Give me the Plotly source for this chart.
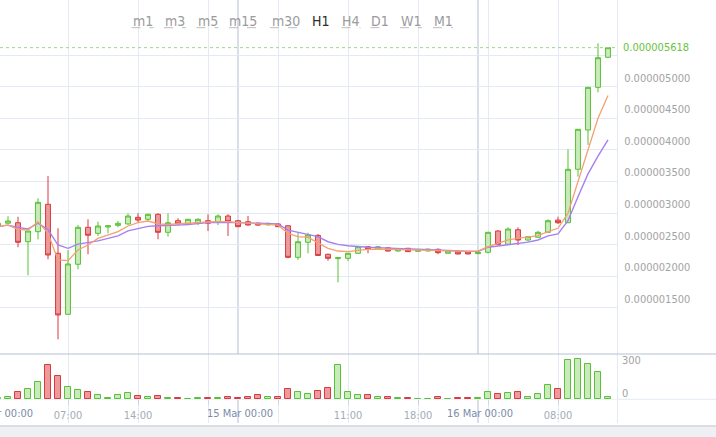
import pandas as pd
import plotly.graph_objects as go

# prices are kept in units of 1e-6 and scaled when plotted
SCALE = 1e-6

TIMES = pd.date_range("2018-03-14 00:00", periods=62, freq="h")

OPEN = [2.79, 2.84, 2.848, 2.547, 2.706, 3.139, 2.364, 1.399, 2.19, 2.775,
        2.68, 2.78, 2.807, 2.828, 2.933, 2.902, 2.981, 2.696, 2.88, 2.828,
        2.84, 2.88, 2.864, 2.954, 2.88, 2.864, 2.84, 2.815, 2.828, 2.80,
        2.30, 2.538, 2.647, 2.348, 2.28, 2.285, 2.364, 2.468, 2.43, 2.45,
        2.40, 2.443, 2.395, 2.40, 2.427, 2.364, 2.39, 2.39, 2.358, 2.38,
        2.717, 2.506, 2.737, 2.574, 2.617, 2.696, 2.89, 2.848, 3.693, 4.315,
        4.99, 5.465]
HIGH = [2.86, 2.95, 2.943, 2.72, 3.234, 3.587, 2.76, 2.416, 2.812, 2.902,
        2.864, 2.80, 2.875, 2.997, 2.997, 2.99, 2.997, 2.997, 2.918, 2.91,
        2.918, 2.981, 2.981, 2.981, 2.89, 2.954, 2.85, 2.85, 2.84, 2.80,
        2.69, 2.69, 2.67, 2.36, 2.30, 2.37, 2.48, 2.48, 2.48, 2.46,
        2.44, 2.45, 2.43, 2.44, 2.44, 2.41, 2.40, 2.40, 2.385, 2.70,
        2.73, 2.775, 2.775, 2.64, 2.72, 2.902, 2.943, 4.009, 4.33, 4.995,
        5.687, 5.618]
LOW = [2.77, 2.83, 2.459, 2.016, 2.585, 2.269, 1.003, 1.39, 2.111, 2.348,
       2.638, 2.68, 2.775, 2.82, 2.848, 2.864, 2.585, 2.627, 2.82, 2.81,
       2.81, 2.717, 2.81, 2.638, 2.78, 2.80, 2.80, 2.80, 2.78, 2.285,
       2.258, 2.364, 2.32, 2.247, 1.905, 2.242, 2.36, 2.364, 2.42, 2.39,
       2.39, 2.385, 2.39, 2.395, 2.35, 2.36, 2.35, 2.35, 2.35, 2.36,
       2.50, 2.50, 2.495, 2.55, 2.61, 2.69, 2.828, 2.84, 3.576, 4.078,
       4.911, 5.46]
CLOSE = [2.84, 2.875, 2.538, 2.717, 3.171, 2.337, 1.388, 2.195, 2.775, 2.649,
         2.796, 2.80, 2.839, 2.954, 2.89, 2.981, 2.696, 2.848, 2.828, 2.902,
         2.902, 2.84, 2.954, 2.864, 2.785, 2.812, 2.81, 2.837, 2.785, 2.30,
         2.547, 2.654, 2.33, 2.285, 2.295, 2.364, 2.468, 2.427, 2.468, 2.40,
         2.427, 2.39, 2.42, 2.43, 2.374, 2.40, 2.353, 2.353, 2.38, 2.696,
         2.506, 2.748, 2.574, 2.627, 2.696, 2.88, 2.848, 3.693, 4.326, 4.99,
         5.459, 5.618]
VOLUME = [15, 21, 63, 93, 153, 306, 210, 108, 84, 63,
          36, 12, 36, 54, 30, 21, 30, 12, 12, 4,
          9, 9, 9, 18, 12, 21, 39, 18, 18, 90,
          66, 51, 75, 99, 306, 63, 36, 42, 21, 21,
          9, 9, 6, 5, 21, 5, 9, 9, 9, 68,
          45, 54, 63, 18, 45, 129, 90, 351, 360, 315,
          243, 21]
MA_FAST = [2.796, 2.81, 2.744, 2.733, 2.864, 2.68, 2.258, 2.247, 2.416, 2.495,
           2.60, 2.653, 2.706, 2.796, 2.85, 2.875, 2.83, 2.82, 2.83, 2.85,
           2.86, 2.86, 2.864, 2.864, 2.85, 2.84, 2.83, 2.82, 2.81, 2.68,
           2.627, 2.617, 2.53, 2.443, 2.40, 2.39, 2.41, 2.427, 2.432, 2.427,
           2.42, 2.416, 2.41, 2.41, 2.405, 2.40, 2.395, 2.395, 2.40, 2.47,
           2.52, 2.575, 2.60, 2.617, 2.643, 2.706, 2.76, 3.0, 3.5, 4.0,
           4.5, 4.86]
MA_SLOW = [2.785, 2.81, 2.775, 2.75, 2.84, 2.74, 2.495, 2.443, 2.51, 2.53,
           2.56, 2.60, 2.64, 2.72, 2.76, 2.79, 2.80, 2.80, 2.81, 2.82,
           2.84, 2.85, 2.855, 2.855, 2.85, 2.845, 2.84, 2.83, 2.83, 2.73,
           2.696, 2.665, 2.627, 2.547, 2.506, 2.484, 2.468, 2.459, 2.453, 2.443,
           2.437, 2.432, 2.427, 2.421, 2.416, 2.411, 2.405, 2.40, 2.39, 2.46,
           2.48, 2.51, 2.53, 2.54, 2.575, 2.64, 2.67, 2.88, 3.26, 3.62,
           3.90, 4.16]

PRICE_TICKS = [1.5, 2.0, 2.5, 3.0, 3.5, 4.0, 4.5, 5.0, 5.5]
VOLUME_TICKS = [0, 300]
TIME_TICKS = ["2018-03-14 07:00", "2018-03-14 14:00", "2018-03-14 21:00",
              "2018-03-15 04:00", "2018-03-15 11:00", "2018-03-15 18:00",
              "2018-03-16 01:00", "2018-03-16 08:00"]
TIME_TICK_TEXT = ["07:00", "14:00", "", "", "11:00", "18:00", "", "08:00"]
DAY_STARTS = ["2018-03-14 00:00", "2018-03-15 00:00", "2018-03-16 00:00"]
DAY_LABELS = ["14 Mar 00:00", "15 Mar 00:00", "16 Mar 00:00"]
TIMEFRAMES = ["m1", "m3", "m5", "m15", "m30", "H1", "H4", "D1", "W1", "M1"]
ACTIVE = "H1"

# --- styling ---------------------------------------------------------------
W, H = 716, 437
FONT = "DejaVu Sans Condensed, DejaVu Sans, sans-serif"
GREEN_LINE, GREEN_FILL = "#58c135", "#c9eabb"
RED_LINE, RED_FILL = "#d93a3e", "#ec9a9b"
GRID = "#e3eaf5"
DAY_LINE = "#b3bdd0"
LABEL = "#a3a3a3"
XLABEL = "#a3abb9"
XDATE = "#7d8ba6"


def px_x(px):
    return px / W


def px_y(py):
    return 1 - py / H


# pixel calibration of the price axis: 5.0 sits at y=86.7, 0.5 per 31.6 px
P_REF, Y_REF, PX_PER_UNIT = 5.0, 86.7, 63.2
PLOT_RIGHT, PLOT_BOTTOM = 617, 423
VOL_TOP, VOL_ZERO, VOL_300 = 354, 399.3, 366

price_top = P_REF + Y_REF / PX_PER_UNIT
price_bottom = P_REF - (PLOT_BOTTOM - Y_REF) / PX_PER_UNIT
vol_max = (VOL_ZERO - VOL_TOP) * 300 / (VOL_ZERO - VOL_300)

X_START_H, X_END_H = 0.2, 61.9
x_range = [TIMES[0] + pd.Timedelta(hours=X_START_H), TIMES[0] + pd.Timedelta(hours=X_END_H)]


def time_to_paper(ts):
    hours = (pd.Timestamp(ts) - TIMES[0]) / pd.Timedelta(hours=1)
    return (hours - X_START_H) / (X_END_H - X_START_H) * px_x(PLOT_RIGHT)


up = [c >= o for o, c in zip(OPEN, CLOSE)]
bar_fill = [GREEN_FILL if u else RED_FILL for u in up]
bar_line = [GREEN_LINE if u else RED_LINE for u in up]

# the label of a grid level that collides with the last-price label is hidden
price_text = ["" if abs(v - CLOSE[-1]) < 0.3 else f"{v * SCALE:.9f}" for v in PRICE_TICKS]

fig = go.Figure()

fig.add_trace(go.Candlestick(
    x=TIMES,
    open=[v * SCALE for v in OPEN], high=[v * SCALE for v in HIGH],
    low=[v * SCALE for v in LOW], close=[v * SCALE for v in CLOSE],
    increasing=dict(line=dict(color=GREEN_LINE, width=1), fillcolor=GREEN_FILL),
    decreasing=dict(line=dict(color=RED_LINE, width=1), fillcolor=RED_FILL),
    whiskerwidth=0, showlegend=False, hoverinfo="skip",
))
fig.add_trace(go.Scatter(
    x=TIMES, y=[v * SCALE for v in MA_SLOW], mode="lines",
    line=dict(color="#a67ff4", width=1.4), showlegend=False, hoverinfo="skip",
))
fig.add_trace(go.Scatter(
    x=TIMES, y=[v * SCALE for v in MA_FAST], mode="lines",
    line=dict(color="#f5a070", width=1.3), showlegend=False, hoverinfo="skip",
))
fig.add_trace(go.Bar(
    x=TIMES, y=VOLUME, yaxis="y2",
    width=0.62 * 3600 * 1000,
    marker=dict(color=bar_fill, line=dict(color=bar_line, width=1)),
    showlegend=False, hoverinfo="skip",
))

shapes = []
# day separators
for d in DAY_STARTS[1:]:
    shapes.append(dict(type="line", xref="x", yref="paper", x0=d, x1=d,
                       y0=px_y(PLOT_BOTTOM), y1=1,
                       line=dict(color=DAY_LINE, width=1), layer="below"))
# volume pane top border and zero line
shapes.append(dict(type="line", xref="paper", yref="paper", x0=0, x1=1,
                   y0=px_y(VOL_TOP), y1=px_y(VOL_TOP),
                   line=dict(color="#b7bfcf", width=1)))
shapes.append(dict(type="line", xref="paper", yref="paper", x0=0, x1=1,
                   y0=px_y(VOL_ZERO), y1=px_y(VOL_ZERO),
                   line=dict(color=GRID, width=1), layer="below"))
# last price line
shapes.append(dict(type="line", xref="paper", yref="y",
                   x0=0, x1=px_x(PLOT_RIGHT),
                   y0=CLOSE[-1] * SCALE, y1=CLOSE[-1] * SCALE,
                   line=dict(color="#9fd68c", width=1, dash="dot")))
# grey strip under the chart
shapes.append(dict(type="rect", xref="paper", yref="paper", x0=0, x1=1,
                   y0=0, y1=px_y(426), fillcolor="#eff0f4",
                   line=dict(width=0)))
shapes.append(dict(type="line", xref="paper", yref="paper", x0=0, x1=1,
                   y0=px_y(426), y1=px_y(426),
                   line=dict(color="#dcdde4", width=2)))

annotations = []
# timeframe buttons
btn_center = [142.5, 175, 207.5, 243, 286, 321, 351, 379.5, 411, 443]
btn_half = [11, 11, 11, 14, 16, 9, 9.5, 9, 11, 10]
for name, cx, hw in zip(TIMEFRAMES, btn_center, btn_half):
    active = name == ACTIVE
    annotations.append(dict(
        text=name, xref="paper", yref="paper", x=px_x(cx), y=px_y(20.7),
        xanchor="center", yanchor="middle", showarrow=False,
        font=dict(family=FONT, size=14, color="#2b2b2b" if active else "#9b9b9b"),
    ))
    if not active:
        shapes.append(dict(type="line", xref="paper", yref="paper",
                           x0=px_x(cx - hw), x1=px_x(cx + hw),
                           y0=px_y(27.7), y1=px_y(27.7),
                           line=dict(color="#bdbdbd", width=1, dash="dash")))
# date labels on the time axis (paper coords so the clipped first one still shows)
for d, t in zip(DAY_STARTS, DAY_LABELS):
    annotations.append(dict(
        text=t, xref="paper", yref="paper", x=time_to_paper(d), y=px_y(413.5),
        xanchor="center", yanchor="middle", xshift=2, showarrow=False,
        font=dict(family=FONT, size=11, color=XDATE),
    ))
# last price label
annotations.append(dict(
    text=f"{CLOSE[-1] * SCALE:.9f}", xref="paper", yref="y",
    x=px_x(621), y=CLOSE[-1] * SCALE, xanchor="left", yanchor="middle",
    showarrow=False, font=dict(family=FONT, size=11, color="#68c340"),
))

fig.update_layout(
    width=W, height=H,
    margin=dict(l=0, r=0, t=0, b=0),
    paper_bgcolor="#ffffff", plot_bgcolor="#ffffff",
    font=dict(family=FONT, size=11, color=LABEL),
    hovermode=False,
    bargap=0,
    xaxis=dict(
        type="date", domain=[0, px_x(PLOT_RIGHT)], range=x_range,
        anchor="free", position=px_y(VOL_ZERO),
        tickmode="array", tickvals=TIME_TICKS, ticktext=TIME_TICK_TEXT,
        ticks="outside", ticklen=5, tickcolor="#ccd6eb",
        tickfont=dict(family=FONT, size=11, color=XLABEL),
        showgrid=True, gridcolor=GRID, gridwidth=1,
        showline=False, zeroline=False, fixedrange=True,
        rangeslider=dict(visible=False),
    ),
    yaxis=dict(
        domain=[px_y(PLOT_BOTTOM), 1],
        range=[price_bottom * SCALE, price_top * SCALE],
        side="right", anchor="x",
        tickmode="array", tickvals=[v * SCALE for v in PRICE_TICKS],
        ticktext=price_text, ticks="", ticklabelstandoff=4, ticklabelshift=-9,
        tickfont=dict(family=FONT, size=11, color=LABEL),
        showgrid=True, gridcolor=GRID, gridwidth=1,
        showline=True, linecolor=GRID, linewidth=1,
        zeroline=False, fixedrange=True,
    ),
    yaxis2=dict(
        domain=[px_y(VOL_ZERO), px_y(VOL_TOP)],
        range=[0, vol_max],
        side="right", anchor="x",
        tickmode="array", tickvals=VOLUME_TICKS,
        ticks="", ticklabelstandoff=4, ticklabelshift=-6,
        tickfont=dict(family=FONT, size=11, color=LABEL),
        showgrid=False, showline=False, zeroline=False, fixedrange=True,
    ),
    shapes=shapes,
    annotations=annotations,
)

# pin the figure to the window corner so the page is exactly the window size
PAGE_FIX = (
    "document.documentElement.style.margin='0';"
    "document.documentElement.style.overflow='hidden';"
    "document.body.style.margin='0';"
    "document.body.style.overflow='hidden';"
    "var gd=document.getElementById('{plot_id}');"
    "gd.style.position='fixed';gd.style.left='0';gd.style.top='0';"
)
fig.write_html("out.html", config={"displayModeBar": False}, post_script=PAGE_FIX)
